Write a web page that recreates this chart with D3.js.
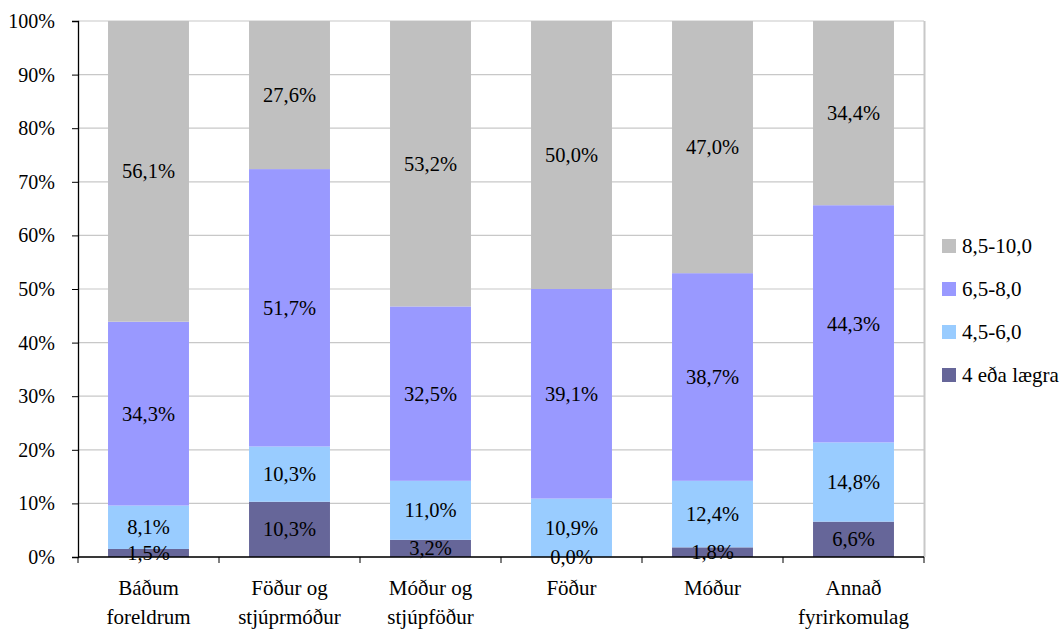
<!DOCTYPE html>
<html><head><meta charset="utf-8">
<script src="https://cdn.jsdelivr.net/npm/d3@7"></script>
</head>
<body style="margin:0"><svg id="c" width="1063" height="630" font-family="Liberation Serif" font-size="20"></svg>
<script>
const categories = [["Báðum","foreldrum"],["Föður og","stjúprmóður"],["Móður og","stjúpföður"],["Föður"],["Móður"],["Annað","fyrirkomulag"]];
const seriesNames = ["4 eða lægra","4,5-6,0","6,5-8,0","8,5-10,0"];
const s1 = [1.5, 10.3, 3.2, 0.0, 1.8, 6.6];
const s2 = [8.1, 10.3, 11.0, 10.9, 12.4, 14.8];
const s3 = [34.3, 51.7, 32.5, 39.1, 38.7, 44.3];
const s4 = [56.1, 27.6, 53.2, 50.0, 47.0, 34.4];
const yTicks = [0,10,20,30,40,50,60,70,80,90,100];
const colors = ["#666699","#99CCFF","#9999FF","#C0C0C0"];

const FONT = "Liberation Serif";
const series = [s1,s2,s3,s4];
const svg = d3.select("#c");
const L=78, R=924, T=21, B=557;
const x = d3.scaleBand().domain(d3.range(categories.length)).range([L,R]).paddingInner(0.426).paddingOuter(0.213);
const y = d3.scaleLinear().domain([0,100]).range([B,T]);

// gridlines
svg.append("g").selectAll("line").data(yTicks).join("line")
  .attr("x1",L).attr("x2",R).attr("y1",d=>y(d)).attr("y2",d=>y(d))
  .attr("stroke","#c8c8c8").attr("stroke-width",1.2);
svg.append("line").attr("x1",R+0.5).attr("x2",R+0.5).attr("y1",T).attr("y2",B).attr("stroke","#c8c8c8").attr("stroke-width",2);

// stacked normalized data
const rows = categories.map((c,i)=>{const vals=series.map(s=>s[i]);const sum=d3.sum(vals);let acc=0;
  return vals.map((v,k)=>{const y0=acc/sum*100;acc+=v;return {i,k,v,y0,y1:acc/sum*100};});});
const segs = rows.flat();

svg.append("g").selectAll("rect").data(segs).join("rect")
  .attr("x",d=>x(d.i)).attr("width",x.bandwidth())
  .attr("y",d=>y(d.y1)).attr("height",d=>y(d.y0)-y(d.y1))
  .attr("fill",d=>colors[d.k]);

svg.append("g").selectAll("text").data(segs).join("text")
  .attr("x",d=>x(d.i)+x.bandwidth()/2).attr("y",d=>y((d.y0+d.y1)/2)+7)
  .attr("text-anchor","middle")
  .attr("font-family",FONT).attr("font-size",20.5).attr("fill","#000")
  .text(d=>d.v.toFixed(1).replace(".",",")+"%");

// axes
const yAxis = d3.axisLeft(y).tickValues(yTicks).tickSize(6).tickPadding(17).tickFormat(d=>d+"%");
const gy = svg.append("g").attr("transform",`translate(${L},0)`).call(yAxis);
gy.attr("font-family",FONT).attr("font-size",20);
gy.select(".domain").attr("stroke","#000").attr("stroke-width",1.3);
gy.selectAll(".tick line").attr("stroke","#000");
gy.selectAll("text").attr("font-family",FONT).attr("font-size",20).attr("fill","#000");

const gx = svg.append("g");
gx.append("line").attr("x1",L).attr("x2",R).attr("y1",B).attr("y2",B).attr("stroke","#000").attr("stroke-width",1.3);
const bounds = d3.range(categories.length+1).map(i=>L+i*x.step());
gx.selectAll("line.t").data(bounds).join("line").attr("class","t")
  .attr("x1",d=>d).attr("x2",d=>d).attr("y1",B).attr("y2",B+6).attr("stroke","#000");
const xl = gx.selectAll("text").data(categories).join("text")
  .attr("text-anchor","middle").attr("font-family",FONT).attr("font-size",21).attr("fill","#000");
xl.each(function(c,i){
  const t=d3.select(this);
  c.forEach((line,j)=>t.append("tspan").attr("x",x(i)+x.bandwidth()/2).attr("y",595+j*29).text(line));
});

// legend
const leg = svg.append("g");
const legOrder = [3,2,1,0];
legOrder.forEach((k,j)=>{
  const yy = 239 + j*43;
  leg.append("rect").attr("x",942).attr("y",yy).attr("width",14).attr("height",14).attr("fill",colors[k]);
  leg.append("text").attr("x",962).attr("y",yy+14)
    .attr("font-family",FONT).attr("font-size",21).attr("fill","#000").text(seriesNames[k]);
});
</script></body></html>
